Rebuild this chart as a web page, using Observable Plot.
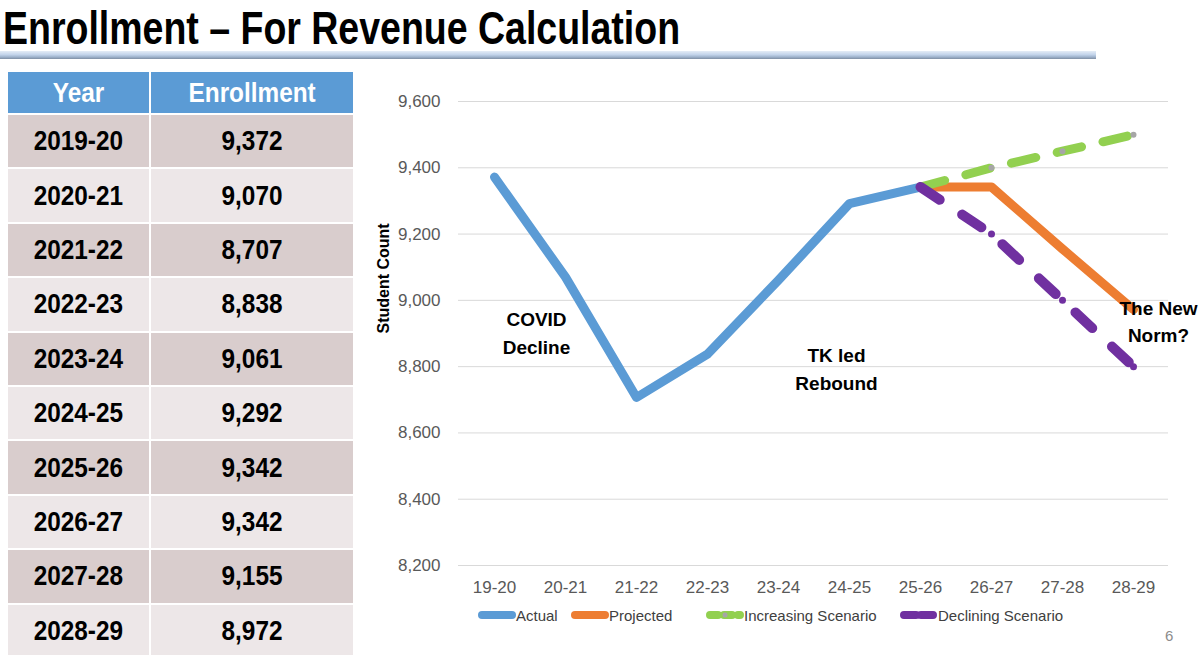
<!DOCTYPE html>
<html>
<head>
<meta charset="utf-8">
<script src="https://cdn.jsdelivr.net/npm/d3@7"></script>
<script src="https://cdn.jsdelivr.net/npm/@observablehq/plot@0.6"></script>
<style>
  html, body { margin: 0; padding: 0; background: #fff; }
  body { width: 1200px; height: 655px; position: relative; overflow: hidden;
         font-family: "Liberation Sans", Arial, sans-serif; }
  #title { position: absolute; left: 3px; top: 1px; margin: 0;
           font: bold 46px "Liberation Sans", Arial, sans-serif; color: #000;
           white-space: nowrap; transform: scaleX(0.815); transform-origin: left top; }
  #rule { position: absolute; left: 0; top: 51px; width: 1096px; height: 8px;
          background: linear-gradient(to bottom, #e4ecf6 0%, #c3d4ea 45%, #9fb3cc 75%, #7f8ea3 100%); }
  #table { position: absolute; left: 8px; top: 72px; display: grid;
           grid-template-columns: 141px 202px; column-gap: 2px; row-gap: 2px;
           grid-template-rows: 41px; grid-auto-rows: 52.4px; }
  #table div { display: flex; align-items: center; justify-content: center; overflow: visible; }
  #table span { display: inline-block; font: bold 28px "Liberation Sans", Arial, sans-serif;
                transform: scaleX(0.87); white-space: nowrap; }
  #table div.head { background: #5b9bd5; color: #fff; }
  #table div.odd { background: #d9cdcd; color: #000; }
  #table div.even { background: #ede7e8; color: #000; }
  #chart { position: absolute; left: 360px; top: 80px; }
  #legend { position: absolute; left: 0; top: 605px; width: 1200px; height: 20px; }
  .item { position: absolute; top: 0; display: flex; align-items: center; height: 20px;
          font: 15px "Liberation Sans", Arial, sans-serif; color: #404040; white-space: nowrap; }
  .item svg { display: block; }
  #page { position: absolute; left: 1165px; top: 627px; font: 15px "Liberation Sans", Arial, sans-serif; color: #8c8c8c; }
</style>
</head>
<body>
<h1 id="title">Enrollment – For Revenue Calculation</h1>
<div id="rule"></div>
<div id="table"></div>
<div id="chart"></div>
<div id="legend"></div>
<div id="page">6</div>
<script>
// Enrollment table (school years and counts)
const years = ["2019-20", "2020-21", "2021-22", "2022-23", "2023-24", "2024-25", "2025-26", "2026-27", "2027-28", "2028-29"];
const enrollment = [9372, 9070, 8707, 8838, 9061, 9292, 9342, 9342, 9155, 8972];

// Chart categories and series
const seasons = ["19-20", "20-21", "21-22", "22-23", "23-24", "24-25", "25-26", "26-27", "27-28", "28-29"];
const actualSeasons = ["19-20", "20-21", "21-22", "22-23", "23-24", "24-25", "25-26"];
const actual = [9372, 9070, 8707, 8838, 9061, 9292, 9342];
const outlookSeasons = ["25-26", "26-27", "27-28", "28-29"];
const projected = [9342, 9342, 9155, 8972];
const increasing = [9342, 9400, 9450, 9500];
const declining = [9342, 9200, 9000, 8800];
const yTicks = [8200, 8400, 8600, 8800, 9000, 9200, 9400, 9600];

// Callout texts and the points they sit beside
const notes = ["COVID\nDecline", "TK led\nRebound", "The New\nNorm?"];
const noteSeasons = ["20-21", "24-25", "28-29"];
const noteValues = [8906, 8800, 8942];

const seriesNames = ["Actual", "Projected", "Increasing Scenario", "Declining Scenario"];
const seriesColors = ["#5b9bd5", "#ed7d31", "#92d050", "#7030a0"];

// ---- table ----
const table = document.getElementById("table");
const cell = (text, cls) => {
  const d = document.createElement("div");
  d.className = cls;
  const s = document.createElement("span");
  s.textContent = text;
  d.appendChild(s);
  table.appendChild(d);
};
cell("Year", "head");
cell("Enrollment", "head");
years.forEach((y, i) => {
  const cls = i % 2 === 0 ? "odd" : "even";
  cell(y, cls);
  cell(d3.format(",")(enrollment[i]), cls);
});

// ---- chart ----
const rows = (xs, ys) => xs.map((s, i) => ({season: s, value: ys[i]}));
const actualRows = rows(actualSeasons, actual);
const projectedRows = rows(outlookSeasons, projected);
const increasingRows = rows(outlookSeasons, increasing);
const decliningRows = rows(outlookSeasons, declining);

const lineStyle = {x: "season", y: "value", strokeWidth: 9, strokeLinecap: "round", strokeLinejoin: "round"};
const noteStyle = {fontSize: 19, fontWeight: "bold", fill: "#000", lineHeight: 1.47, textAnchor: "middle"};
const note = (i, dx) => Plot.text([notes[i]], {x: [noteSeasons[i]], y: [noteValues[i]], dx, ...noteStyle});

const chart = Plot.plot({
  width: 840,
  height: 520,
  marginLeft: 98,
  marginRight: 32,
  marginTop: 21,
  marginBottom: 35,
  style: {fontFamily: "Liberation Sans, Arial, sans-serif", background: "transparent", overflow: "visible"},
  x: {type: "point", domain: seasons, padding: 0.5},
  y: {domain: [8200, 9600]},
  marks: [
    Plot.gridY(yTicks, {stroke: "#d9d9d9", strokeOpacity: 1, strokeWidth: 1}),
    Plot.axisY(yTicks, {tickSize: 0, tickPadding: 18, tickFormat: d3.format(","), fontSize: 17, fill: "#595959", label: null}),
    Plot.axisX(seasons, {tickSize: 0, tickPadding: 15, fontSize: 17, fill: "#595959", label: null}),
    Plot.text(["Student Count"], {frameAnchor: "left", dx: -75, rotate: -90, fontSize: 16, fontWeight: "bold", fill: "#000"}),
    Plot.line(actualRows, {...lineStyle, stroke: seriesColors[0]}),
    Plot.line(projectedRows, {...lineStyle, stroke: seriesColors[1]}),
    Plot.line(increasingRows, {...lineStyle, stroke: seriesColors[2], strokeDasharray: "25,22"}),
    Plot.dot(increasingRows.slice(1), {x: "season", y: "value", r: 3, fill: "#a6a6a6"}),
    Plot.line(decliningRows, {...lineStyle, stroke: seriesColors[3], strokeWidth: 10, strokeDasharray: "23,27"}),
    Plot.dot(decliningRows.slice(1), {x: "season", y: "value", r: 3.5, fill: seriesColors[3]}),
    note(0, -29),
    note(1, -13),
    note(2, 25)
  ]
});
document.getElementById("chart").appendChild(chart);

// ---- legend ----
const legend = document.getElementById("legend");
const legendLeft = [478, 571, 706, 900];
const dashes = [null, null, "8,6", "12,5"];
seriesNames.forEach((name, i) => {
  const item = document.createElement("div");
  item.className = "item";
  item.style.left = legendLeft[i] + "px";
  const sw = d3.create("svg").attr("width", 38).attr("height", 20);
  sw.append("line").attr("x1", 4).attr("x2", 34).attr("y1", 10).attr("y2", 10)
    .attr("stroke", seriesColors[i]).attr("stroke-width", 8).attr("stroke-linecap", "round")
    .attr("stroke-dasharray", dashes[i]);
  if (i >= 2) sw.append("circle").attr("cx", 19).attr("cy", 10).attr("r", 2.5)
    .attr("fill", i === 2 ? "#a6a6a6" : seriesColors[i]);
  item.appendChild(sw.node());
  const label = document.createElement("span");
  label.textContent = name;
  item.appendChild(label);
  legend.appendChild(item);
});
</script>
</body>
</html>
